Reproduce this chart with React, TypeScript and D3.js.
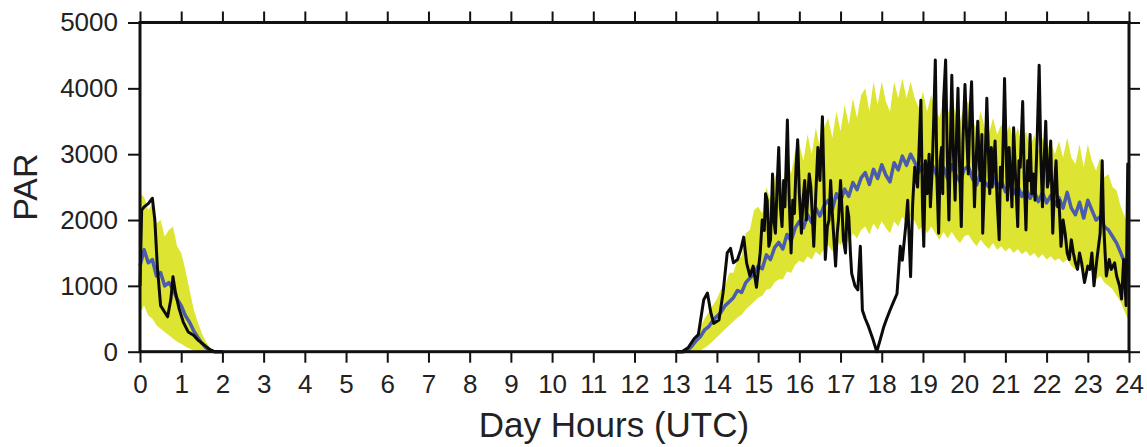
import React, { useEffect, useRef } from "react";
import * as d3 from "d3";

const hourTicks = [0, 1, 2, 3, 4, 5, 6, 7, 8, 9, 10, 11, 12, 13, 14, 15, 16, 17, 18, 19, 20, 21, 22, 23, 24];
const parTicks = [0, 1000, 2000, 3000, 4000, 5000];

// model spread + mean, sampled every 0.1 h
const amStart = 0;
const amUpper = [2400, 2350, 2150, 2250, 1950, 2000, 1750, 1850, 1900, 1600, 1500, 1250, 950, 650, 450, 280, 150, 60, 0, 0, 0];
const amLower = [600, 700, 550, 500, 400, 350, 300, 250, 200, 150, 120, 80, 50, 20, 0, 0, 0, 0, 0, 0, 0];
const amMean = [1300, 1550, 1350, 1400, 1150, 1200, 1000, 1050, 950, 800, 700, 550, 450, 320, 220, 130, 60, 20, 0, 0, 0];

const pmStart = 13;
const pmUpper = [
  0, 0, 0, 60, 150, 260, 380, 500, 600, 700, // 13
  800, 950, 1000, 1200, 1200, 1400, 1450, 1800, 1850, 2150, // 14
  2200, 2100, 2500, 2300, 2650, 2750, 2500, 2950, 2700, 3050, // 15
  3150, 2900, 3300, 3000, 3400, 3100, 3400, 3550, 3250, 3650, // 16
  3350, 3750, 3450, 3850, 3550, 3900, 4000, 3650, 4100, 3750, // 17
  4100, 3800, 3650, 4100, 3850, 4150, 3850, 4100, 3850, 3700, // 18
  3950, 3650, 3900, 3700, 3550, 3850, 3600, 3850, 3600, 3500, // 19
  3750, 3800, 3500, 3400, 3650, 3400, 3300, 3550, 3300, 3450, // 20
  3250, 3450, 3200, 3400, 3150, 3350, 3100, 3300, 3050, 3250, // 21
  3050, 3200, 3000, 3200, 2950, 3250, 2950, 2850, 3150, 2800, // 22
  3150, 2900, 2750, 2950, 2650, 2700, 2500, 2450, 2200, 2050, // 23
  1900,
];
const pmLower = [
  0, 0, 0, 0, 0, 0, 20, 60, 100, 160,
  220, 280, 340, 400, 460, 520, 560, 640, 700, 760,
  820, 850, 940, 960, 1050, 1100, 1100, 1220, 1200, 1320,
  1380, 1350, 1450, 1400, 1520, 1460, 1560, 1620, 1520, 1680,
  1620, 1720, 1650, 1800, 1720, 1850, 1900, 1780, 1950, 1850,
  1980, 1880, 1800, 1980, 1900, 2050, 1950, 2050, 1980, 1850,
  1900, 1800, 1900, 1800, 1700, 1820, 1720, 1820, 1720, 1650,
  1750, 1780, 1680, 1600, 1700, 1620, 1560, 1650, 1550, 1600,
  1520, 1580, 1500, 1560, 1480, 1530, 1450, 1500, 1420, 1480,
  1400, 1450, 1380, 1420, 1350, 1400, 1300, 1250, 1320, 1200,
  1300, 1200, 1100, 1150, 1050, 1000, 950, 850, 750, 600,
  450,
];
const pmMean = [
  0, 0, 0, 30, 90, 170, 230, 330, 380, 470,
  540, 600, 700, 760, 820, 930, 900, 1050, 1120, 1180,
  1300, 1260, 1470, 1400, 1580, 1660, 1560, 1780, 1680, 1880,
  1980, 1880, 2080, 1960, 2180, 2060, 2220, 2300, 2160, 2400,
  2290, 2470, 2360, 2570, 2460, 2640, 2720, 2540, 2770, 2630,
  2840, 2680, 2580, 2870, 2760, 2970, 2830, 3000, 2880, 2730,
  2840, 2680, 2870, 2730, 2580, 2800, 2630, 2840, 2680, 2580,
  2770, 2820, 2630, 2530, 2720, 2580, 2500, 2670, 2480, 2600,
  2430, 2570, 2400, 2520, 2360, 2480, 2330, 2440, 2280, 2420,
  2260, 2370, 2230, 2340, 2180, 2420, 2180, 2080, 2270, 2030,
  2300, 2150, 2000, 2050, 1900, 1850, 1750, 1650, 1500, 1350,
  1250,
];

// observed PAR, [hour, value]
const obsAm: [number, number][] = [
  [0, 1000], [0.04, 2150], [0.1, 2200], [0.2, 2250], [0.3, 2330], [0.36, 2000], [0.42, 1300], [0.5, 700],
  [0.6, 600], [0.67, 530], [0.75, 800], [0.8, 1140], [0.86, 900], [0.95, 650], [1.05, 450], [1.17, 300],
  [1.3, 250], [1.4, 180], [1.5, 130], [1.6, 80], [1.7, 30], [1.8, 0], [2.0, 0],
];

const obsPm: [number, number][] = [
  [13.0, 0], [13.15, 0], [13.3, 60], [13.45, 200], [13.55, 260], [13.68, 790], [13.77, 890], [13.85, 600],
  [13.92, 430], [14.05, 480], [14.15, 900], [14.25, 1500], [14.33, 1570], [14.4, 1350], [14.5, 1400],
  [14.58, 1550], [14.65, 1740], [14.72, 1350], [14.8, 1150], [14.88, 1300], [14.96, 980],
  [15.05, 1500], [15.1, 2000], [15.15, 1840], [15.18, 2400], [15.22, 2300], [15.26, 1600], [15.3, 1700],
  [15.35, 2700], [15.38, 2000], [15.42, 1800], [15.46, 2500], [15.5, 3100], [15.54, 2200], [15.58, 1900],
  [15.62, 2600], [15.65, 2200], [15.71, 3520], [15.75, 2400], [15.8, 1500], [15.84, 2300], [15.88, 2100],
  [15.92, 2800], [15.96, 3220], [16.0, 2400], [16.05, 1800], [16.09, 2300], [16.13, 2600], [16.17, 2000],
  [16.2, 2300], [16.24, 2700], [16.28, 2500], [16.32, 2000], [16.35, 1600], [16.4, 2400], [16.45, 3100],
  [16.5, 2600], [16.56, 3570], [16.6, 2500], [16.63, 1400], [16.68, 1900], [16.72, 2000], [16.76, 2600],
  [16.8, 2100], [16.84, 1700], [16.88, 1300], [16.92, 1800], [16.95, 2000], [17.0, 2600], [17.04, 2100],
  [17.07, 1700], [17.12, 1500], [17.16, 2200], [17.2, 2050], [17.24, 1500], [17.27, 1190], [17.35, 1000],
  [17.42, 940], [17.48, 1600], [17.53, 630], [17.6, 500], [17.68, 380], [17.78, 200], [17.88, 0],
  [17.97, 200], [18.05, 380], [18.12, 500], [18.2, 630], [18.28, 750], [18.37, 880], [18.45, 1600],
  [18.5, 1390], [18.58, 1900], [18.63, 2300], [18.7, 1140], [18.75, 2250], [18.8, 2800], [18.87, 2500],
  [18.95, 3820], [18.99, 2200], [19.02, 1600], [19.06, 2900], [19.1, 2400], [19.15, 3000], [19.18, 2200],
  [19.22, 2700], [19.26, 3500], [19.3, 4430], [19.34, 2600], [19.38, 1800], [19.42, 2900], [19.45, 3100],
  [19.48, 2400], [19.5, 3800], [19.55, 4430], [19.59, 3000], [19.63, 2000], [19.67, 3300], [19.7, 4200],
  [19.74, 3000], [19.78, 2300], [19.82, 3400], [19.85, 4000], [19.89, 2800], [19.93, 1900], [19.97, 3200],
  [20.02, 4060], [20.06, 3300], [20.1, 2700], [20.14, 3600], [20.18, 4100], [20.22, 3000], [20.25, 2200],
  [20.29, 2900], [20.33, 3500], [20.37, 2800], [20.4, 2600], [20.43, 3300], [20.45, 1800], [20.5, 2700],
  [20.55, 3850], [20.59, 3000], [20.62, 2400], [20.66, 3100], [20.68, 2500], [20.72, 2900], [20.75, 3200],
  [20.8, 2300], [20.85, 1700], [20.88, 2800], [20.92, 2500], [20.95, 3300], [20.98, 4150], [21.02, 3000],
  [21.05, 2300], [21.09, 3100], [21.12, 2700], [21.16, 2200], [21.2, 3400], [21.25, 2600], [21.3, 1900],
  [21.33, 2900], [21.36, 2800], [21.39, 3300], [21.42, 3800], [21.46, 2600], [21.5, 1850], [21.54, 2900],
  [21.57, 2600], [21.6, 3300], [21.64, 2400], [21.68, 2700], [21.72, 2300], [21.77, 3200], [21.82, 4350],
  [21.86, 3000], [21.9, 2200], [21.94, 2900], [21.98, 3500], [22.02, 2500], [22.05, 2600], [22.1, 3200],
  [22.15, 1800], [22.19, 2500], [22.23, 2900], [22.27, 2200], [22.3, 2300], [22.33, 1900], [22.35, 1600],
  [22.4, 2000], [22.45, 1800], [22.5, 1500], [22.55, 1400], [22.6, 1700], [22.65, 1500], [22.7, 1350],
  [22.75, 1250], [22.8, 1500], [22.85, 1350], [22.92, 1050], [23.0, 1300], [23.05, 1250], [23.1, 1500],
  [23.15, 1000], [23.22, 1400], [23.3, 1800], [23.35, 2900], [23.38, 2000], [23.42, 1500], [23.45, 1150],
  [23.52, 1400], [23.57, 1250], [23.65, 1350], [23.7, 1150], [23.77, 1000], [23.82, 800], [23.87, 1400],
  [23.93, 700], [23.97, 2850], [24.0, 2800],
];

const W = 1147;
const H = 447;
const margin = { top: 22.5, right: 18, bottom: 95.3, left: 140 };
const FONT = "'Liberation Sans', Arial, Helvetica, sans-serif";

type Pt = { h: number; lo: number; hi: number; m: number };

function bandRows(start: number, lower: number[], upper: number[], mean: number[]): Pt[] {
  return lower.map((lo, i) => ({ h: start + i * 0.1, lo, hi: upper[i], m: mean[i] }));
}

const App = () => {
  const svgRef = useRef<SVGSVGElement | null>(null);

  useEffect(() => {
    const svg = d3.select(svgRef.current);
    svg.selectAll("*").remove();

    const x = d3.scaleLinear().domain([0, 24]).range([margin.left, W - margin.right]);
    const y = d3.scaleLinear().domain([0, 5000]).range([H - margin.bottom, margin.top]);

    const am = bandRows(amStart, amLower, amUpper, amMean);
    const pm = bandRows(pmStart, pmLower, pmUpper, pmMean);

    const area = d3
      .area<Pt>()
      .x((d) => x(d.h))
      .y0((d) => y(d.lo))
      .y1((d) => y(d.hi));
    const meanLine = d3
      .line<Pt>()
      .x((d) => x(d.h))
      .y((d) => y(d.m));
    const obsLine = d3
      .line<[number, number]>()
      .x((d) => x(d[0]))
      .y((d) => y(d[1]));

    const plot = svg.append("g");
    [am, pm].forEach((rows) => {
      plot.append("path").attr("d", area(rows)).attr("fill", "#d9e11c").attr("opacity", 0.9);
    });
    [am, pm].forEach((rows) => {
      plot
        .append("path")
        .attr("d", meanLine(rows))
        .attr("fill", "none")
        .attr("stroke", "#4a5cab")
        .attr("stroke-width", 3.5)
        .attr("stroke-linejoin", "round");
    });
    [obsAm, obsPm].forEach((pts) => {
      plot
        .append("path")
        .attr("d", obsLine(pts))
        .attr("fill", "none")
        .attr("stroke", "#0b0b0b")
        .attr("stroke-width", 3)
        .attr("stroke-linejoin", "round");
    });

    // axes
    const styleAxis = (g: any) => {
      g.select(".domain").remove();
      g.selectAll(".tick line").attr("stroke", "#111").attr("stroke-width", 2);
      g.selectAll(".tick text").attr("fill", "#222").style("font-family", FONT).style("font-size", "26px");
    };

    svg
      .append("g")
      .attr("transform", `translate(0,${H - margin.bottom})`)
      .call(d3.axisBottom(x).tickValues(hourTicks).tickFormat(d3.format("d")).tickSize(11).tickPadding(12))
      .call(styleAxis);
    svg
      .append("g")
      .attr("transform", `translate(0,${margin.top})`)
      .call(d3.axisTop(x).tickValues(hourTicks).tickFormat(() => "").tickSize(11))
      .call(styleAxis);
    svg
      .append("g")
      .attr("transform", `translate(${margin.left},0)`)
      .call(d3.axisLeft(y).tickValues(parTicks).tickFormat(d3.format("d")).tickSize(12).tickPadding(10))
      .call(styleAxis);
    svg
      .append("g")
      .attr("transform", `translate(${W - margin.right},0)`)
      .call(d3.axisRight(y).tickValues(parTicks).tickFormat(() => "").tickSize(11))
      .call(styleAxis);

    svg
      .append("rect")
      .attr("x", margin.left)
      .attr("y", margin.top)
      .attr("width", W - margin.left - margin.right)
      .attr("height", H - margin.top - margin.bottom)
      .attr("fill", "none")
      .attr("stroke", "#111")
      .attr("stroke-width", 3);

    svg
      .append("text")
      .attr("x", 614)
      .attr("y", 437)
      .attr("text-anchor", "middle")
      .attr("fill", "#222")
      .style("font-family", FONT)
      .style("font-size", "35px")
      .text("Day Hours (UTC)");

    svg
      .append("text")
      .attr("transform", `translate(37,${(margin.top + H - margin.bottom) / 2}) rotate(-90)`)
      .attr("text-anchor", "middle")
      .attr("fill", "#222")
      .style("font-family", FONT)
      .style("font-size", "34px")
      .text("PAR");
  }, []);

  return (
    <svg
      ref={svgRef}
      width={W}
      height={H}
      style={{ position: "absolute", left: 0, top: 0, background: "#fff" }}
    />
  );
};

export default App;
